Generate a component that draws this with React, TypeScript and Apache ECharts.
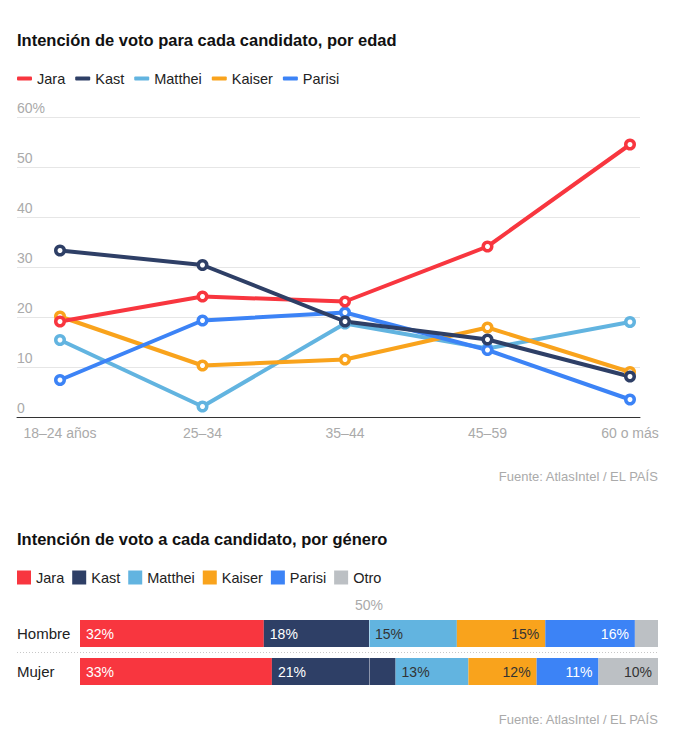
import React, { useEffect, useRef } from "react";
import * as echarts from "echarts";

const FONT = "'Liberation Sans', Arial, sans-serif";

// Line chart data (intención de voto por edad, %)
const ageCategories = ["18–24 años", "25–34", "35–44", "45–59", "60 o más"];
const jaraAge = [19.1, 24.1, 23.1, 34.1, 54.5];
const kastAge = [33.3, 30.4, 19.1, 15.5, 8.1];
const mattheiAge = [15.4, 2.1, 18.7, 13.7, 19.0];
const kaiserAge = [20.1, 10.3, 11.5, 17.9, 9.0];
const parisiAge = [7.4, 19.3, 20.9, 13.4, 3.5];

// Bar chart data (intención de voto por género, %)
const genders = ["Hombre", "Mujer"];
const jaraGender = [31.8, 33.2];
const kastGender = [18.2, 21.4];
const mattheiGender = [15.2, 12.6];
const kaiserGender = [15.3, 11.8];
const parisiGender = [15.5, 10.7];
const otroGender = [4.0, 10.3];

const COLORS: Record<string, string> = {
  Jara: "#f8363f",
  Kast: "#2e3f66",
  Matthei: "#62b4e0",
  Kaiser: "#f9a31c",
  Parisi: "#3c83f6",
  Otro: "#bcc0c4",
};

const lineLegend = ["Jara", "Kast", "Matthei", "Kaiser", "Parisi"];
const barLegend = ["Jara", "Kast", "Matthei", "Kaiser", "Parisi", "Otro"];

function lineSeries(name: string, data: number[]) {
  return {
    type: "line",
    name,
    xAxisIndex: 1,
    yAxisIndex: 1,
    data,
    symbol: "circle",
    symbolSize: 8.5,
    color: COLORS[name],
    lineStyle: { width: 4, color: COLORS[name] },
    itemStyle: { color: "#fff", borderWidth: 3.5, borderColor: COLORS[name] },
  };
}

function barSeries(name: string, data: number[], labelColor: string, pos: string, extra: any = {}) {
  return {
    type: "bar",
    name,
    stack: "g",
    xAxisIndex: 2,
    yAxisIndex: 2,
    data,
    barWidth: 27,
    color: COLORS[name],
    itemStyle: { color: COLORS[name] },
    label: {
      show: true,
      position: pos,
      distance: 6,
      color: labelColor,
      fontSize: 14,
      fontFamily: FONT,
      formatter: (p: any) => (p.value < 5 ? "" : Math.round(p.value) + "%"),
    },
    ...extra,
  };
}

function legendItems(names: string[]) {
  return names.map((n) => ({ name: n, itemStyle: { color: COLORS[n], borderWidth: 0 } }));
}

export default function App() {
  const ref = useRef<HTMLDivElement>(null);
  useEffect(() => {
    const chart = echarts.init(ref.current!, null, { renderer: "svg" });
    const option: any = {
      animation: false,
      backgroundColor: "#fff",
      textStyle: { fontFamily: FONT },
      title: [
        {
          text: "Intención de voto para cada candidato, por edad",
          left: 17,
          top: 31,
          padding: 0,
          textStyle: { fontSize: 16.5, fontWeight: "bold", color: "#111", fontFamily: FONT },
        },
        {
          text: "Fuente: AtlasIntel / EL PAÍS",
          right: 27,
          top: 470,
          padding: 0,
          textStyle: { fontSize: 13, fontWeight: "normal", color: "#aaa", fontFamily: FONT },
        },
        {
          text: "Intención de voto a cada candidato, por género",
          left: 17,
          top: 530,
          padding: 0,
          textStyle: { fontSize: 16.5, fontWeight: "bold", color: "#111", fontFamily: FONT },
        },
        {
          text: "Fuente: AtlasIntel / EL PAÍS",
          right: 27,
          top: 713,
          padding: 0,
          textStyle: { fontSize: 13, fontWeight: "normal", color: "#aaa", fontFamily: FONT },
        },
      ],
      legend: [
        {
          data: legendItems(lineLegend),
          left: 17,
          top: 71,
          padding: 0,
          icon: "roundRect",
          itemWidth: 15,
          itemHeight: 4,
          itemGap: 10,
          selectedMode: false,
          itemStyle: { borderWidth: 0 },
          textStyle: { fontSize: 14.5, color: "#222", fontFamily: FONT },
        },
        {
          data: legendItems(barLegend),
          left: 17,
          top: 570,
          padding: 0,
          icon: "rect",
          itemWidth: 14,
          itemHeight: 14,
          itemGap: 8,
          selectedMode: false,
          itemStyle: { borderWidth: 0 },
          textStyle: { fontSize: 14.5, color: "#222", fontFamily: FONT },
        },
      ],
      grid: [
        { left: 17, right: 46, top: 117, bottom: 333 },
        { left: 60, right: 56, top: 117, bottom: 333 },
        { left: 80, right: 28, top: 614.5, bottom: 59.5 },
      ],
      xAxis: [
        {
          gridIndex: 0,
          type: "value",
          min: 0,
          max: 1,
          axisLine: { show: true, lineStyle: { color: "#333", width: 1 } },
          axisTick: { show: false },
          axisLabel: { show: false },
          splitLine: { show: false },
        },
        {
          gridIndex: 1,
          type: "category",
          data: ageCategories,
          boundaryGap: false,
          axisLine: { show: false },
          axisTick: { show: false },
          axisLabel: { color: "#aaa", fontSize: 14, margin: 9, fontFamily: FONT },
          splitLine: { show: false },
        },
        {
          gridIndex: 2,
          type: "value",
          min: 0,
          max: 100,
          show: false,
        },
      ],
      yAxis: [
        {
          gridIndex: 0,
          type: "value",
          min: 0,
          max: 60,
          interval: 10,
          axisLine: { show: false },
          axisTick: { show: false },
          axisLabel: {
            inside: true,
            margin: 0,
            align: "left",
            verticalAlign: "bottom",
            padding: [0, 0, 2, 0],
            color: "#aaa",
            fontSize: 14,
            fontFamily: FONT,
            formatter: (v: number) => (v === 60 ? "60%" : String(v)),
          },
          splitLine: { show: true, lineStyle: { color: "#e6e6e6", width: 1 } },
        },
        {
          gridIndex: 1,
          type: "value",
          min: 0,
          max: 60,
          show: false,
        },
        {
          gridIndex: 2,
          type: "category",
          data: genders,
          inverse: true,
          axisLine: { show: false },
          axisTick: { show: false },
          axisLabel: { color: "#222", fontSize: 15, align: "left", margin: 63, fontFamily: FONT },
        },
      ],
      graphic: [
        {
          type: "line",
          shape: { x1: 17, y1: 652.5, x2: 658, y2: 652.5 },
          style: { stroke: "#c8c8c8", lineWidth: 1, lineDash: [1, 2] },
        },
      ],
      series: [
        lineSeries("Matthei", mattheiAge),
        lineSeries("Kaiser", kaiserAge),
        lineSeries("Parisi", parisiAge),
        lineSeries("Jara", jaraAge),
        lineSeries("Kast", kastAge),
        barSeries("Jara", jaraGender, "#fff", "insideLeft"),
        barSeries("Kast", kastGender, "#fff", "insideLeft"),
        barSeries("Matthei", mattheiGender, "#333", "insideLeft"),
        barSeries("Kaiser", kaiserGender, "#333", "insideRight"),
        barSeries("Parisi", parisiGender, "#fff", "insideRight"),
        barSeries("Otro", otroGender, "#333", "insideRight", {
          markLine: {
            silent: true,
            symbol: "none",
            z: 10,
            lineStyle: { color: "rgba(255,255,255,0.45)", width: 1, type: "solid" },
            label: {
              show: true,
              position: "start",
              distance: 3,
              formatter: "50%",
              color: "#aaa",
              fontSize: 14,
              fontFamily: FONT,
            },
            data: [{ xAxis: 50 }],
          },
        }),
      ],
    };
    chart.setOption(option);
    return () => chart.dispose();
  }, []);
  return (
    <div
      ref={ref}
      style={{ position: "absolute", left: 0, top: 0, width: 686, height: 750, background: "#fff" }}
    />
  );
}
